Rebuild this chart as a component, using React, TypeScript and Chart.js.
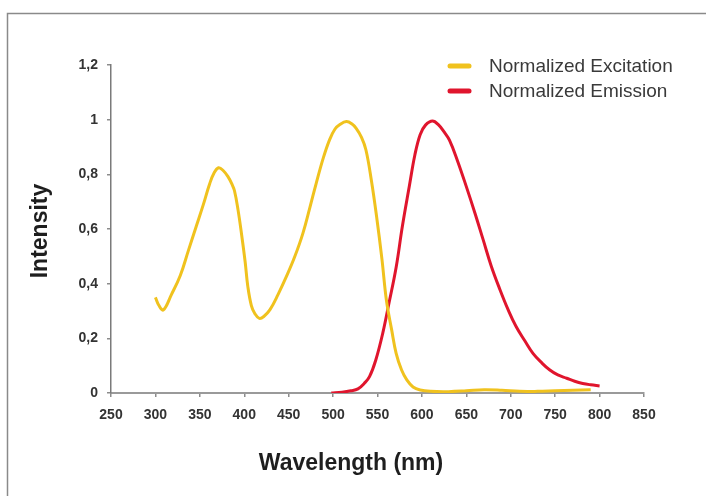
import React, { useEffect, useRef } from "react";
import { Chart, registerables } from "chart.js";

Chart.register(...registerables);

// ---- data ----
const excitationWavelength = [
  300, 304, 309, 318, 328, 337, 346, 354, 361, 366, 371, 376, 382, 386, 389, 393,
  397, 401, 404, 408, 412, 417, 422, 429, 438, 448, 457, 466, 474, 481, 489, 496,
  502, 508, 515, 521, 526, 532, 537, 543, 549, 555, 560, 566, 571, 577, 583, 590,
  598, 610, 630, 650, 670, 690, 710, 730, 750, 770, 790,
];
const excitationIntensity = [
  0.35, 0.32, 0.304, 0.36, 0.43, 0.52, 0.61, 0.69, 0.765, 0.805, 0.824, 0.815, 0.79, 0.765, 0.74, 0.67,
  0.58, 0.48, 0.39, 0.32, 0.29, 0.273, 0.28, 0.305, 0.36, 0.43, 0.5, 0.584, 0.68, 0.767, 0.86, 0.926,
  0.965, 0.983, 0.993, 0.985, 0.968, 0.935, 0.889, 0.78, 0.645, 0.49, 0.34, 0.23, 0.145, 0.085, 0.048, 0.022,
  0.011, 0.006, 0.005, 0.008, 0.012, 0.01, 0.006, 0.006, 0.008, 0.01, 0.012,
];
const emissionWavelength = [
  498, 510, 520, 528, 535, 541, 548, 556, 563, 571, 578, 586, 592, 598, 604, 612,
  619, 625, 631, 640, 650, 660, 669, 678, 688, 697, 706, 716, 725, 735, 744, 753,
  763, 772, 781, 790, 800,
];
const emissionIntensity = [
  0.0, 0.003, 0.008, 0.015, 0.035, 0.06, 0.12, 0.22, 0.33, 0.46, 0.61, 0.76, 0.87, 0.945, 0.98, 0.995,
  0.98, 0.955, 0.925, 0.85, 0.755, 0.655, 0.56, 0.465, 0.377, 0.305, 0.243, 0.19, 0.145, 0.11, 0.084, 0.066,
  0.054, 0.043, 0.035, 0.03, 0.026,
];
const seriesLabels = ["Normalized Excitation", "Normalized Emission"];
const xAxisTitle = "Wavelength (nm)";
const yAxisTitle = "Intensity";
const xTickMin = 250;
const xTickMax = 850;
const xTickStep = 50;
const yTickMin = 0;
const yTickMax = 1.2;
const yTickStep = 0.2;

const EXC_COLOR = "#F0C21E";
const EMI_COLOR = "#E0152D";
const FONT = "'Liberation Sans', Arial, sans-serif";

const decorPlugin = {
  id: "decor",
  beforeDraw(chart: any) {
    const ctx = chart.ctx;
    ctx.save();
    ctx.fillStyle = "#ffffff";
    ctx.fillRect(0, 0, chart.width, chart.height);
    // outer frame (left and top visible)
    ctx.strokeStyle = "#8a8a8a";
    ctx.lineWidth = 1.5;
    ctx.beginPath();
    ctx.moveTo(7.5, chart.height + 2);
    ctx.lineTo(7.5, 13.5);
    ctx.lineTo(chart.width + 2, 13.5);
    ctx.stroke();
    ctx.restore();
  },
  afterDraw(chart: any) {
    const ctx = chart.ctx;
    ctx.save();
    // legend
    const colors = [EXC_COLOR, EMI_COLOR];
    const rowsY = [66, 91];
    ctx.font = `19px ${FONT}`;
    ctx.textBaseline = "middle";
    ctx.textAlign = "left";
    seriesLabels.forEach((label, i) => {
      ctx.strokeStyle = colors[i];
      ctx.lineWidth = 5;
      ctx.lineCap = "round";
      ctx.beginPath();
      ctx.moveTo(450, rowsY[i]);
      ctx.lineTo(469, rowsY[i]);
      ctx.stroke();
      ctx.fillStyle = "#3a3a3a";
      ctx.fillText(label, 489, rowsY[i] + 1);
    });
    // axis titles
    ctx.fillStyle = "#1e1e1e";
    ctx.font = `bold 23px ${FONT}`;
    ctx.textAlign = "center";
    ctx.textBaseline = "alphabetic";
    ctx.fillText(xAxisTitle, 351, 470);
    ctx.save();
    ctx.translate(47, 231);
    ctx.rotate(-Math.PI / 2);
    ctx.fillText(yAxisTitle, 0, 0);
    ctx.restore();
    ctx.restore();
  },
};

export default function App() {
  const canvasRef = useRef<HTMLCanvasElement | null>(null);

  useEffect(() => {
    if (!canvasRef.current) return;
    const excData = excitationWavelength.map((x, i) => ({ x, y: excitationIntensity[i] }));
    const emiData = emissionWavelength.map((x, i) => ({ x, y: emissionIntensity[i] }));
    const chart = new Chart(canvasRef.current, {
      type: "line",
      data: {
        datasets: [
          {
            label: seriesLabels[0],
            data: excData,
            borderColor: EXC_COLOR,
            borderWidth: 3,
            pointRadius: 0,
            tension: 0.4,
            fill: false,
          },
          {
            label: seriesLabels[1],
            data: emiData,
            borderColor: EMI_COLOR,
            borderWidth: 3,
            pointRadius: 0,
            tension: 0.4,
            fill: false,
          },
        ],
      },
      options: {
        responsive: false,
        animation: false,
        devicePixelRatio: 1,
        layout: { padding: { left: 0, top: 65, right: 62, bottom: 0 } },
        plugins: {
          legend: { display: false },
          tooltip: { enabled: false },
          title: { display: false },
        },
        scales: {
          x: {
            type: "linear",
            min: xTickMin,
            max: xTickMax,
            afterFit: (scale: any) => {
              scale.height = 103;
            },
            ticks: {
              stepSize: xTickStep,
              padding: 10,
              color: "#333333",
              font: { family: FONT, size: 14, weight: "bold" },
              maxRotation: 0,
            },
            grid: {
              drawOnChartArea: false,
              drawTicks: true,
              tickLength: 4,
              color: "#8c8c8c",
              lineWidth: 1.5,
            },
            border: { display: true, color: "#9a9a9a", width: 2 },
          },
          y: {
            type: "linear",
            min: yTickMin,
            max: yTickMax,
            afterFit: (scale: any) => {
              scale.width = 111;
            },
            ticks: {
              stepSize: yTickStep,
              padding: 9,
              color: "#333333",
              font: { family: FONT, size: 14, weight: "bold" },
              callback: (v: any) => String(Math.round(Number(v) * 10) / 10).replace(".", ","),
            },
            grid: {
              drawOnChartArea: false,
              drawTicks: true,
              tickLength: 4,
              color: "#8c8c8c",
              lineWidth: 1.5,
            },
            border: { display: true, color: "#7a7a7a", width: 1.5 },
          },
        },
      },
      plugins: [decorPlugin],
    } as any);
    return () => chart.destroy();
  }, []);

  return (
    <div style={{ position: "fixed", left: 0, top: 0, width: 706, height: 496 }}>
      <canvas ref={canvasRef} width={706} height={496} style={{ width: 706, height: 496, display: "block" }} />
    </div>
  );
}
